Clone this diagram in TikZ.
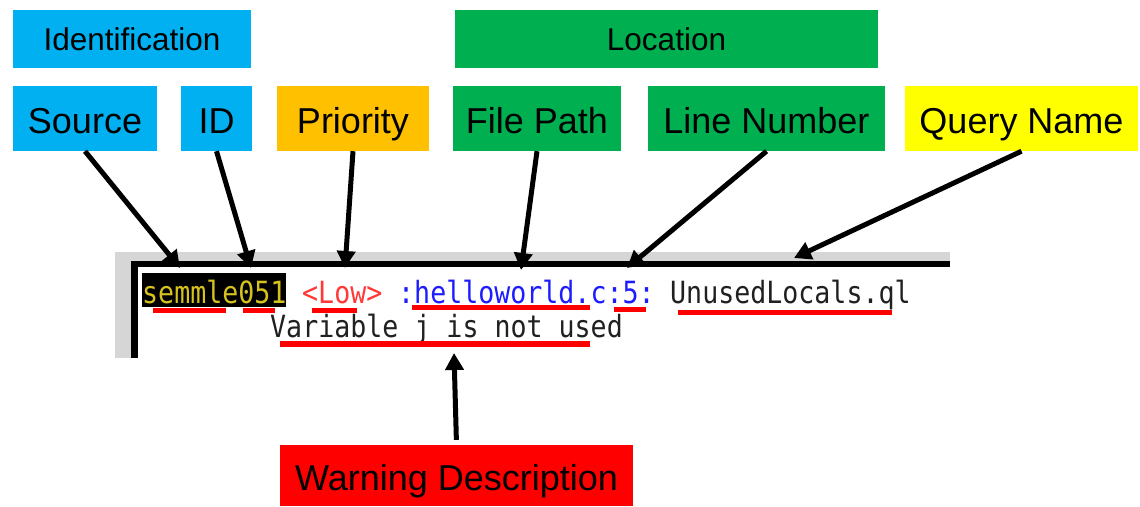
\documentclass[tikz,border=0pt]{standalone}
\usepackage{fontspec}
\setmainfont{Liberation Sans}
\newfontfamily\termfont[FakeStretch=0.87]{DejaVu Sans Mono}
\usetikzlibrary{arrows.meta}
\definecolor{idblue}{HTML}{00B0F0}
\definecolor{locgreen}{HTML}{00B050}
\definecolor{prioorange}{HTML}{FFC000}
\definecolor{queryyellow}{HTML}{FFFF00}
\definecolor{termgray}{HTML}{D6D6D6}
\definecolor{termyellow}{HTML}{D6C21E}
\definecolor{termred}{HTML}{FF3838}
\definecolor{termblue}{HTML}{1C1CFF}
\definecolor{termtext}{HTML}{202020}

\begin{document}
\begin{tikzpicture}[x=1pt, y=-1pt,
        box/.style={inner sep=0pt, minimum height=65pt, text height=33pt, text depth=4pt,
            font=\fontsize{36}{40}\selectfont},
        head/.style={inner sep=0pt, minimum height=58pt, text height=26pt, text depth=3pt,
            font=\fontsize{31.5}{34}\selectfont},
        term/.style={anchor=base west, inner sep=0pt, font=\termfont\fontsize{30.6}{34}\selectfont},
        uline/.style={red, line width=5pt},
        arr/.style={line width=5pt, -{Triangle[length=17pt,width=18pt]}}]
    \useasboundingbox[fill=white] (0,0) rectangle (1140,506);

    \node[head, fill=idblue, minimum width=238pt] (ident) at (132,39) {Identification};
    \node[head, fill=locgreen, minimum width=423pt] (loc) at (666.5,39) {Location};

    \node[box, fill=idblue, minimum width=144pt] (src) at (85,118.5) {Source};
    \node[box, fill=idblue, minimum width=71pt] (id) at (216.5,118.5) {ID};
    \node[box, fill=prioorange, minimum width=152pt] (prio) at (353,118.5) {Priority};
    \node[box, fill=locgreen, minimum width=168pt] (path) at (537,118.5) {File Path};
    \node[box, fill=locgreen, minimum width=237pt] (line) at (766.5,118.5) {Line Number};
    \node[box, fill=queryyellow, minimum width=233pt] (query) at (1021.5,118.5) {Query Name};
    \node[box, fill=red, minimum width=353pt, minimum height=61pt] (warn) at (456.5,475.5) {Warning Description};

    \fill[termgray] (115,252) rectangle (950,358);
    \fill[white] (138,267) rectangle (950,358);
    \fill[black] (131,261) rectangle (950,267);
    \fill[black] (131,261) rectangle (138,358);

    \node[term, fill=black, text=termyellow, text height=30pt, text depth=4pt] (source) at (142,303) {semmle051};
    \node[term, text=termred] (priority) at (302,303) {<Low>};
    \node[term, text=termblue] (location) at (398,303) {:helloworld.c:5:};
    \node[term, text=termtext] (queryname) at (670,303) {UnusedLocals.ql};
    \node[term, text=termtext] (message) at (270,337) {Variable j is not used};

    \draw[uline] (153,310.5) -- (226,310.5);
    \draw[uline] (243,310.5) -- (275,310.5);
    \draw[uline] (312,310.5) -- (357,310.5);
    \draw[uline] (412,307.5) -- (590,307.5);
    \draw[uline] (614,309.5) -- (646,309.5);
    \draw[uline] (678,312.5) -- (892,312.5);
    \draw[uline, line width=6pt] (280,343.5) -- (590,343.5);

    \coordinate (tsrc) at (180,268);
    \coordinate (tid) at (251,268);
    \coordinate (tprio) at (345,268);
    \coordinate (tpath) at (521,270);
    \coordinate (tline) at (627,268);
    \coordinate (tquery) at (794,258);
    \coordinate (twarn) at (454,353);

    \draw[arr] (src.south) -- (tsrc);
    \draw[arr] (id.south) -- (tid);
    \draw[arr] (prio.south) -- (tprio);
    \draw[arr] (path.south) -- (tpath);
    \draw[arr] (line.south) -- (tline);
    \draw[arr] (query.south) -- (tquery);
    \draw[arr, shorten <=5pt] (warn.north) -- (twarn);
\end{tikzpicture}
\end{document}
